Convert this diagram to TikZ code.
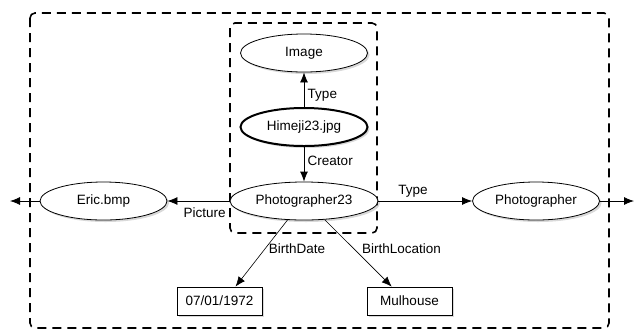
\documentclass[tikz,border=0pt]{standalone}
\usepackage{fontspec}
\setmainfont{Liberation Sans}
\usetikzlibrary{arrows.meta,shapes.geometric,shadows}

\begin{document}
\begin{tikzpicture}[x=1pt,y=-1pt,
    font=\fontsize{13.5}{16}\selectfont,
    res/.style={ellipse,draw,line width=0.8pt,fill=white,minimum width=127pt,
      minimum height=38pt,inner sep=0pt,
      drop shadow={shadow xshift=2pt,shadow yshift=-2pt,opacity=0.3}},
    lit/.style={rectangle,draw,line width=0.8pt,fill=white,minimum width=85pt,
      minimum height=28pt,inner sep=0pt,
      drop shadow={shadow xshift=2pt,shadow yshift=-2pt,opacity=0.3}},
    rel/.style={-{Latex[length=10pt,width=8pt]},line width=0.8pt},
    grp/.style={line width=1.6pt,dash pattern=on 9pt off 6pt,rounded corners=5pt}]
    \useasboundingbox (0,0) rectangle (636,333);
    \draw[grp] (30,13) rectangle (609,328);
    \draw[grp] (230,23) rectangle (377,233);
    \node[res] (img) at (304,53) {Image};
    \node[res,line width=2pt] (him) at (304,127) {Himeji23.jpg};
    \node[res,minimum width=148pt] (pg23) at (304,201) {Photographer23};
    \node[res] (eric) at (103.5,201) {Eric.bmp};
    \node[res] (phot) at (536,201) {Photographer};
    \node[lit] (date) at (219.5,301) {07/01/1972};
    \node[lit] (mul) at (409.5,301) {Mulhouse};
    \coordinate (outl) at (10,201);
    \coordinate (outr) at (634,201);
    \draw[rel] (him) -- node[right,pos=0.35] {Type} (img);
    \draw[rel] (him) -- node[right,pos=0.4] {Creator} (pg23);
    \draw[rel] (pg23) -- node[below=3pt,pos=0.4] {Picture} (eric);
    \draw[rel] (pg23) -- node[above,pos=0.37] {Type} (phot);
    \draw[rel] (eric) -- (outl);
    \draw[rel] (phot) -- (outr);
    \draw[rel,line width=0.6pt] (pg23.229) -- node[right,pos=0.43] {BirthDate} (date.42);
    \draw[rel,line width=0.6pt] (pg23.-42) -- node[right=5pt,pos=0.43] {BirthLocation} (mul.141);
\end{tikzpicture}
\end{document}
